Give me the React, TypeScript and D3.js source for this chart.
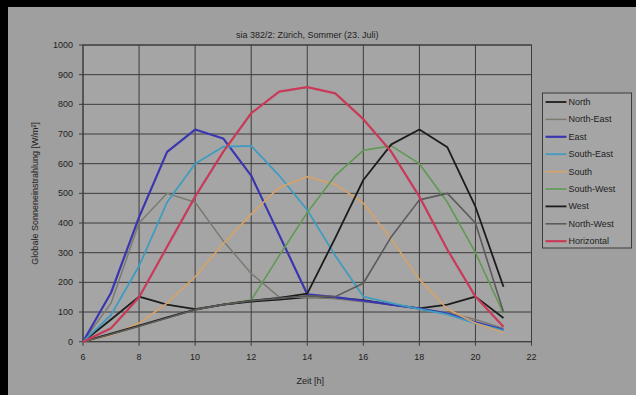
import React from "react";
import * as d3 from "d3";

const hours = [6, 7, 8, 9, 10, 11, 12, 13, 14, 15, 16, 17, 18, 19, 20, 21];
const north = [0, 75, 152, 125, 110, 125, 135, 142, 150, 148, 140, 125, 112, 125, 152, 80];
const northEast = [0, 130, 400, 500, 470, 340, 230, 150, 150, 145, 135, 125, 112, 98, 75, 45];
const east = [0, 165, 420, 640, 715, 685, 560, 360, 160, 150, 138, 125, 112, 95, 65, 40];
const southEast = [0, 90, 255, 470, 600, 657, 660, 560, 444, 290, 152, 130, 110, 92, 62, 38];
const south = [0, 22, 62, 130, 219, 330, 430, 520, 556, 530, 467, 345, 210, 110, 62, 32];
const southWest = [0, 25, 52, 80, 108, 125, 140, 290, 435, 560, 645, 660, 600, 470, 300, 95];
const west = [0, 27, 54, 82, 108, 125, 138, 148, 162, 350, 545, 665, 715, 655, 455, 185];
const northWest = [0, 25, 52, 80, 108, 125, 138, 146, 155, 152, 197, 354, 478, 500, 400, 100];
const horizontal = [0, 45, 150, 320, 489, 640, 770, 843, 858, 837, 750, 640, 489, 310, 152, 50];

const seriesNames = ["North", "North-East", "East", "South-East", "South", "South-West", "West", "North-West", "Horizontal"];
const seriesValues = [north, northEast, east, southEast, south, southWest, west, northWest, horizontal];
const seriesColors = ["#1c1c1c", "#7c7a70", "#3a36b0", "#3f9cc0", "#d9a266", "#5f9a52", "#1c1c1c", "#5a5a5a", "#c83a58"];
const seriesWidths = [1.8, 1.5, 2.2, 1.8, 1.6, 1.6, 1.8, 1.6, 2.2];

const xTicks = [6, 8, 10, 12, 14, 16, 18, 20, 22];
const yTicks = [0, 100, 200, 300, 400, 500, 600, 700, 800, 900, 1000];

const title = "sia 382/2: Zürich, Sommer (23. Juli)";
const xTitle = "Zeit [h]";
const yTitle = "Globale Sonneneinstrahlung [W/m²]";

export default function App() {
  const W = 636, H = 395;
  const left = 83, right = 531.5, top = 45, bottom = 341.7;
  const x = d3.scaleLinear().domain([6, 22]).range([left, right]);
  const y = d3.scaleLinear().domain([0, 1000]).range([bottom, top]);
  const line = d3.line<number>().x((_, i) => x(hours[i])).y((v) => y(v));
  const font = "Arial, 'Liberation Sans', sans-serif";
  const legX = 542.5, legY = 93, legW = 89, legH = 155, legStep = 17.4;
  return (
    <svg width={W} height={H} style={{ position: "absolute", left: 0, top: 0 }} fontFamily={font}>
      <rect x={0} y={0} width={W} height={H} fill="#9f9f9f" />
      <rect x={0} y={0} width={W} height={7} fill="#000" />
      <rect x={0} y={0} width={8} height={H} fill="#000" />
      <rect x={left} y={top} width={right - left} height={bottom - top} fill="#a5a5a5" />
      {yTicks.map((t) => (
        <line key={"gy" + t} x1={left} x2={right} y1={y(t)} y2={y(t)} stroke="#3c3c3c" strokeWidth={1} />
      ))}
      {xTicks.map((t) => (
        <line key={"gx" + t} x1={x(t)} x2={x(t)} y1={top} y2={bottom} stroke="#3c3c3c" strokeWidth={1} />
      ))}
      <rect x={left} y={top} width={right - left} height={bottom - top} fill="none" stroke="#3c3c3c" strokeWidth={1} />
      {yTicks.map((t) => (
        <g key={"ty" + t}>
          <line x1={left - 4} x2={left} y1={y(t)} y2={y(t)} stroke="#3c3c3c" />
          <text x={left - 10} y={y(t) + 3} textAnchor="end" fontSize={9} fill="#1e1e1e">{t}</text>
        </g>
      ))}
      {xTicks.map((t) => (
        <g key={"tx" + t}>
          <line x1={x(t)} x2={x(t)} y1={bottom} y2={bottom + 4} stroke="#3c3c3c" />
          <text x={x(t)} y={bottom + 18} textAnchor="middle" fontSize={9} fill="#1e1e1e">{t}</text>
        </g>
      ))}
      {seriesValues.map((vals, i) => (
        <path key={"s" + i} d={line(vals) || ""} fill="none" stroke={seriesColors[i]} strokeWidth={seriesWidths[i]} strokeLinejoin="round" />
      ))}
      <text x={(left + right) / 2} y={38} textAnchor="middle" fontSize={9} fill="#1e1e1e">{title}</text>
      <text x={(left + right) / 2 + 3} y={384} textAnchor="middle" fontSize={9} fill="#1e1e1e">{xTitle}</text>
      <text transform={`translate(38, ${(top + bottom) / 2}) rotate(-90)`} textAnchor="middle" fontSize={9} fill="#1e1e1e">{yTitle}</text>
      <rect x={legX} y={legY} width={legW} height={legH} fill="#a5a5a5" stroke="#3c3c3c" strokeWidth={1} />
      {seriesNames.map((n, i) => (
        <g key={"l" + i}>
          <line x1={legX + 3} x2={legX + 24} y1={legY + 9 + i * legStep} y2={legY + 9 + i * legStep} stroke={seriesColors[i]} strokeWidth={seriesWidths[i]} />
          <text x={legX + 26} y={legY + 12 + i * legStep} fontSize={9} fill="#1e1e1e">{n}</text>
        </g>
      ))}
    </svg>
  );
}
